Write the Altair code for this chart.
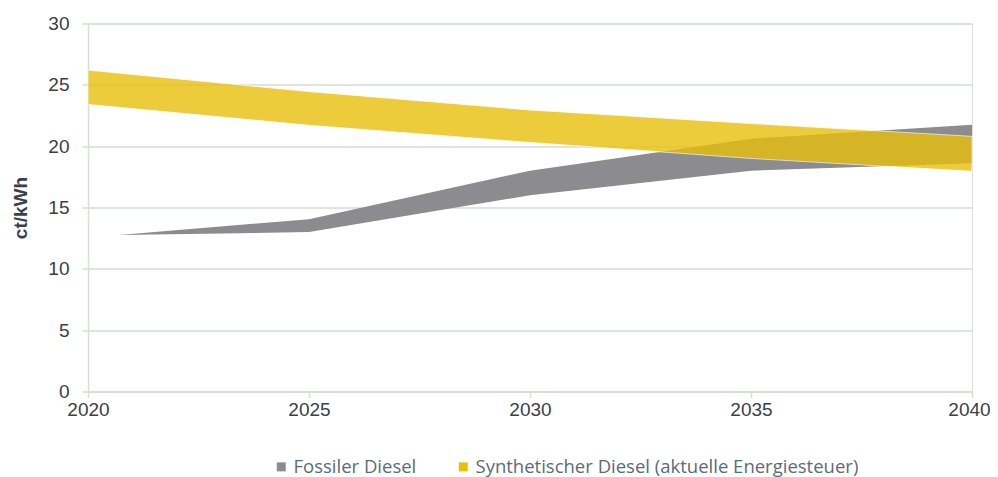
import altair as alt
import pandas as pd

series_names = ["Fossiler Diesel", "Synthetischer Diesel (aktuelle Energiesteuer)"]

fossil_years = [2020.7, 2025, 2030, 2035, 2040]
fossil_upper = [12.75, 14.05, 18.0, 20.6, 21.75]
fossil_lower = [12.75, 13.0, 16.0, 18.0, 18.6]

synth_years = [2020, 2025, 2030, 2035, 2040]
synth_upper = [26.2, 24.45, 22.95, 21.85, 20.8]
synth_lower = [23.4, 21.7, 20.3, 19.0, 17.95]

x_ticks = [2020, 2025, 2030, 2035, 2040]
y_ticks = [0, 5, 10, 15, 20, 25, 30]

colors = ["#8C8C90", "#E8C00B"]

df_f = pd.DataFrame({"year": fossil_years, "upper": fossil_upper, "lower": fossil_lower,
                     "series": series_names[0]})
df_s = pd.DataFrame({"year": synth_years, "upper": synth_upper, "lower": synth_lower,
                     "series": series_names[1]})

color_scale = alt.Scale(domain=series_names, range=colors)

x_enc = alt.X("year:Q", scale=alt.Scale(domain=[2020, 2040], nice=False, zero=False),
              axis=alt.Axis(values=x_ticks, format="d", title=None,
                            grid=False, domainColor="#D5DDD5", domainWidth=1.5,
                            tickColor="#D5DDD5", tickSize=6, tickWidth=1.5,
                            labelFont="Liberation Sans", labelFontSize=19, labelColor="#3A4049",
                            labelPadding=3, labelFlush=False,
                            labelOffset={"condition": {"test": "datum.value == 2040", "value": -3},
                                         "value": 0}))
y_enc = alt.Y("upper:Q", scale=alt.Scale(domain=[0, 30], nice=False),
              axis=alt.Axis(values=y_ticks, title="ct/kWh",
                            titleFont="Liberation Sans", titleFontSize=19, titleFontWeight="bold",
                            titleColor="#3A4049", titlePadding=17,
                            grid=True, gridColor="#D5DDD5", gridWidth=1.5,
                            domainColor="#D5DDD5", domainWidth=1.5,
                            tickColor="#D5DDD5", tickSize=6, tickWidth=1.5,
                            labelFont="Liberation Sans", labelFontSize=19, labelColor="#3A4049",
                            labelPadding=13))

legend = alt.Legend(title=None, orient="none", legendX=184, legendY=434, direction="horizontal",
                    symbolType="square", symbolSize=81, symbolStrokeWidth=0,
                    labelFont="Open Sans", labelFontSize=18.5, labelColor="#5B6B7A",
                    labelLimit=0, columnPadding=37, labelOffset=3)

fossil = alt.Chart(df_f).mark_area(opacity=1).encode(
    x=x_enc, y=y_enc, y2="lower:Q",
    color=alt.Color("series:N", scale=color_scale, legend=legend),
)
synth = alt.Chart(df_s).mark_area(opacity=0.8, stroke="white", strokeWidth=0.8, strokeOpacity=1).encode(
    x=x_enc, y=y_enc, y2="lower:Q",
    color=alt.Color("series:N", scale=color_scale, legend=legend),
)

chart = alt.layer(fossil, synth).properties(
    width=884, height=368,
    autosize=alt.AutoSizeParams(type="none"),
    padding={"left": 80, "top": 15.5, "right": 18, "bottom": 85.5},
).configure_view(stroke=None).configure(background="white")

chart.save("out.html", embed_options={"renderer": "svg", "actions": False})
